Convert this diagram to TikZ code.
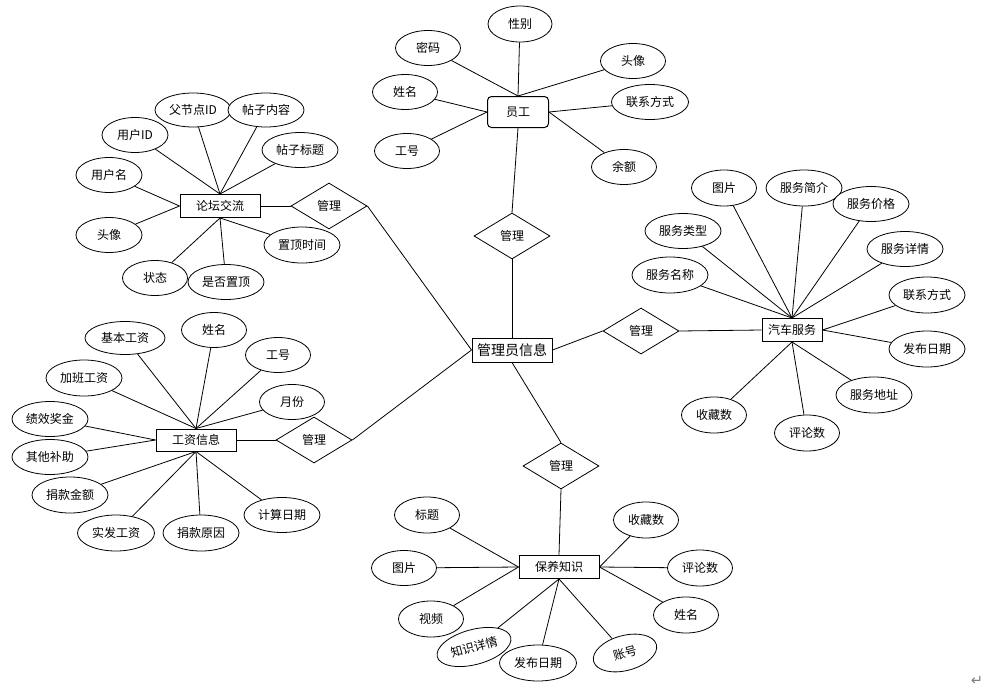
\documentclass[tikz,border=0pt]{standalone}
\usepackage{fontspec}
\setmainfont{Noto Sans CJK SC}
\newfontfamily\symfnt{DejaVu Sans}
\usetikzlibrary{shapes.geometric}
\begin{document}
\begin{tikzpicture}[x=0.75pt,y=-0.75pt,
  every node/.style={font=\fontsize{9}{10}\selectfont, inner sep=0pt},
  attr/.style={ellipse,draw,fill=white,line width=0.6pt,minimum width=48.75pt,minimum height=26.25pt},
  attrw/.style={attr,minimum width=57pt},
  ent/.style={rectangle,draw,fill=white,line width=0.75pt,minimum width=60pt,minimum height=17.25pt},
  rel/.style={diamond,draw,fill=white,line width=0.6pt,minimum width=57pt,minimum height=34.5pt},
  lnk/.style={line width=0.6pt}]
\useasboundingbox (0,0) rectangle (1007,696);

% central entity and relationships
\node[ent,minimum height=18pt,font=\fontsize{10.5}{12}\selectfont] (admin) at (512,350) {管理员信息};
\node[rel] (r1) at (512,236) {管理};
\node[rel] (r2) at (641,331) {管理};
\node[rel] (r3) at (561,466) {管理};
\node[rel] (r4) at (329,206) {管理};
\node[rel] (r5) at (314,440) {管理};

% 员工
\node[ent,rounded corners=3pt,minimum width=45.75pt,minimum height=23.25pt] (yg) at (518,112) {员工};
\node[attr,minimum width=48pt,minimum height=27pt] (a1) at (520,24) {性别};
\node[attr] (a2) at (428,48) {密码};
\node[attr] (a3) at (405,92) {姓名};
\node[attr] (a4) at (407,151) {工号};
\node[attr] (a5) at (633,61) {头像};
\node[attrw,minimum width=57.75pt] (a6) at (650,102) {联系方式};
\node[attr] (a7) at (624,167) {余额};

% 论坛交流
\node[ent] (lt) at (220,206) {论坛交流};
\node[attrw,minimum height=25.5pt] (b1) at (193,110) {父节点ID};
\node[attrw,minimum height=25.5pt] (b2) at (266,110) {帖子内容};
\node[attr,minimum width=49.5pt] (b3) at (135,135) {用户ID};
\node[attrw] (b4) at (300,150) {帖子标题};
\node[attr,minimum width=49.5pt] (b5) at (109,175) {用户名};
\node[attr,minimum width=49.5pt] (b6) at (109,235) {头像};
\node[attrw,minimum height=27pt] (b7) at (302,245) {置顶时间};
\node[attr] (b8) at (155,278) {状态};
\node[attrw] (b9) at (226,282) {是否置顶};

% 汽车服务
\node[ent,minimum width=45pt] (qc) at (792,330) {汽车服务};
\node[attr,minimum height=27pt] (c1) at (724,188) {图片};
\node[attrw,minimum height=27pt] (c2) at (804,188) {服务简介};
\node[attrw] (c3) at (871,204) {服务价格};
\node[attrw] (c4) at (683,231) {服务类型};
\node[attrw] (c5) at (905,249) {服务详情};
\node[attrw,minimum height=27pt] (c6) at (670,275) {服务名称};
\node[attrw,minimum height=27pt] (c7) at (927,295) {联系方式};
\node[attrw,minimum height=27pt] (c8) at (927,349) {发布日期};
\node[attrw,minimum height=27pt] (c9) at (874,395) {服务地址};
\node[attr,minimum height=27pt] (c10) at (714,415) {收藏数};
\node[attr,minimum height=27pt] (c11) at (807,433) {评论数};

% 工资信息
\node[ent,minimum height=16.5pt] (gz) at (196,440) {工资信息};
\node[attrw,minimum width=60pt,minimum height=24.75pt] (d1) at (125,338) {基本工资};
\node[attr] (d2) at (214,330) {姓名};
\node[attr] (d3) at (278,355) {工号};
\node[attrw,minimum height=27pt] (d4) at (84,378) {加班工资};
\node[attr] (d5) at (292,402) {月份};
\node[attrw] (d6) at (50,419) {绩效奖金};
\node[attrw] (d7) at (50,457) {其他补助};
\node[attrw,minimum height=27pt] (d8) at (70,495) {捐款金额};
\node[attrw] (d9) at (282,515) {计算日期};
\node[attrw,minimum width=57.75pt,minimum height=27pt] (d10) at (116,533) {实发工资};
\node[attrw,minimum height=27pt] (d11) at (201,533) {捐款原因};

% 保养知识
\node[ent] (by) at (559,567) {保养知识};
\node[attr,minimum height=27pt] (e1) at (427,515) {标题};
\node[attr] (e2) at (404,568) {图片};
\node[attr,minimum height=27pt] (e3) at (431,619) {视频};
\node[attrw,rotate=15] (e4) at (474,647) {知识详情};
\node[attrw,minimum width=57.75pt,minimum height=27pt] (e5) at (538,663) {发布日期};
\node[attr,rotate=15] (e6) at (625,653) {账号};
\node[attr,minimum height=27pt] (e7) at (646,520) {收藏数};
\node[attr,minimum height=27pt] (e8) at (700,568) {评论数};
\node[attr,minimum height=27pt] (e9) at (686,615) {姓名};

% connectors
\draw[lnk] (admin.north) -- (r1.south);
\draw[lnk] (r1.north) -- (yg.south);
\draw[lnk] (admin.east) -- (r2.west);
\draw[lnk] (r2.east) -- (qc.west);
\draw[lnk] (admin.south) -- (r3.north);
\draw[lnk] (r3.south) -- (by.north);
\draw[lnk] (admin.west) -- (r4.east);
\draw[lnk] (r4.west) -- (lt.east);
\draw[lnk] (admin.west) -- (r5.east);
\draw[lnk] (r5.west) -- (gz.east);

\foreach \n in {a1,a2,a5} \draw[lnk] (\n) -- (yg.north);
\foreach \n in {a3,a4} \draw[lnk] (\n) -- (yg.west);
\foreach \n in {a6,a7} \draw[lnk] (\n) -- (yg.east);

\foreach \n in {b1,b2,b3,b4} \draw[lnk] (\n) -- (lt.north);
\foreach \n in {b5,b6} \draw[lnk] (\n) -- (lt.west);
\foreach \n in {b7,b8,b9} \draw[lnk] (\n) -- (lt.south);

\foreach \n in {c1,c2,c3,c4,c5,c6} \draw[lnk] (\n) -- (qc.north);
\foreach \n in {c7,c8} \draw[lnk] (\n) -- (qc.east);
\foreach \n in {c9,c10,c11} \draw[lnk] (\n) -- (qc.south);

\foreach \n in {d1,d2,d3,d4,d5} \draw[lnk] (\n) -- (gz.north);
\foreach \n in {d6,d7} \draw[lnk] (\n) -- (gz.west);
\foreach \n in {d8,d9,d10,d11} \draw[lnk] (\n) -- (gz.south);

\foreach \n in {e1,e2,e3} \draw[lnk] (\n) -- (by.west);
\foreach \n in {e4,e5,e6} \draw[lnk] (\n) -- (by.south);
\foreach \n in {e7,e8,e9} \draw[lnk] (\n) -- (by.east);

\node[font=\symfnt\fontsize{11}{12}\selectfont,text=gray] (ret) at (977,681) {↵};
\end{tikzpicture}
\end{document}
